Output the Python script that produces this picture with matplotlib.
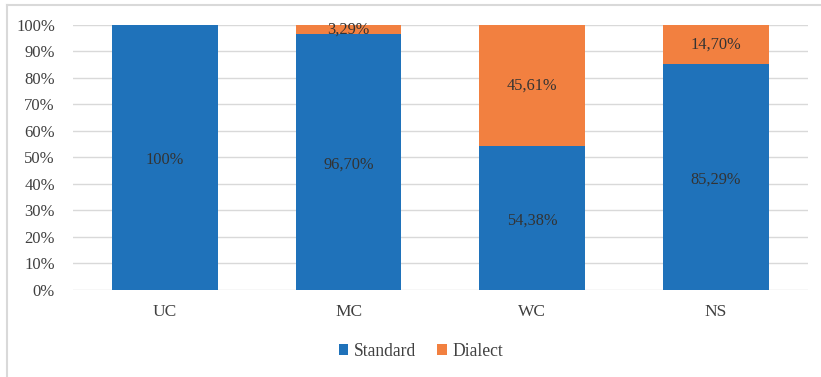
import matplotlib.pyplot as plt
from matplotlib.lines import Line2D
from matplotlib.ticker import PercentFormatter

categories = ['UC', 'MC', 'WC', 'NS']
standard = [100, 96.70, 54.38, 85.29]
dialect = [0, 3.29, 45.61, 14.70]
standard_labels = ['100%', '96,70%', '54,38%', '85,29%']
dialect_labels = ['', '3,29%', '45,61%', '14,70%']

blue = '#1F72BA'
orange = '#F28040'
text_c = '#404040'

plt.rcParams['font.family'] = ['Liberation Serif', 'DejaVu Serif']

fig = plt.figure(figsize=(8.21, 3.77), dpi=100)
ax = fig.add_axes([0.0889, 0.2308, 0.895, 0.7029])

x = range(len(categories))
ax.bar(x, standard, width=0.575, color=blue, label='Standard', zorder=2)
ax.bar(x, dialect, width=0.575, bottom=standard, color=orange, label='Dialect', zorder=2)

for i in x:
    ax.text(i, standard[i] / 2 - 1, standard_labels[i], ha='center', va='center',
            fontsize=11.8, color='#333333', zorder=3)
    if dialect_labels[i]:
        ax.text(i, standard[i] + dialect[i] / 2, dialect_labels[i], ha='center',
                va='center', fontsize=11.8, color='#333333', zorder=3)

ax.set_xlim(-0.5, 3.5)
ax.set_ylim(0, 100)
ax.set_yticks(range(0, 101, 10))
ax.yaxis.set_major_formatter(PercentFormatter(decimals=0))
ax.set_xticks(list(x))
ax.set_xticklabels(categories)
ax.tick_params(axis='both', length=0, labelsize=12, colors=text_c)
ax.tick_params(axis='x', labelsize=12.5, pad=10)
ax.tick_params(axis='y', pad=13)
ax.grid(axis='y', color='#D9D9D9', linewidth=1, zorder=0)
for s in ax.spines.values():
    s.set_visible(False)

ax.legend(loc='center', bbox_to_anchor=(0.5125, 0.068), bbox_transform=fig.transFigure,
          ncol=2, frameon=False, fontsize=12.7, handlelength=0.55, handleheight=0.55,
          handletextpad=0.3, columnspacing=1.2, labelcolor=text_c)

# figure border (left and top)
fig.add_artist(Line2D([0.008, 0.008], [0, 0.987], color='#D9D9D9', linewidth=1.5,
                      transform=fig.transFigure))
fig.add_artist(Line2D([0.008, 1], [0.987, 0.987], color='#D9D9D9', linewidth=1.5,
                      transform=fig.transFigure))

fig.savefig('out.png', dpi=100)
